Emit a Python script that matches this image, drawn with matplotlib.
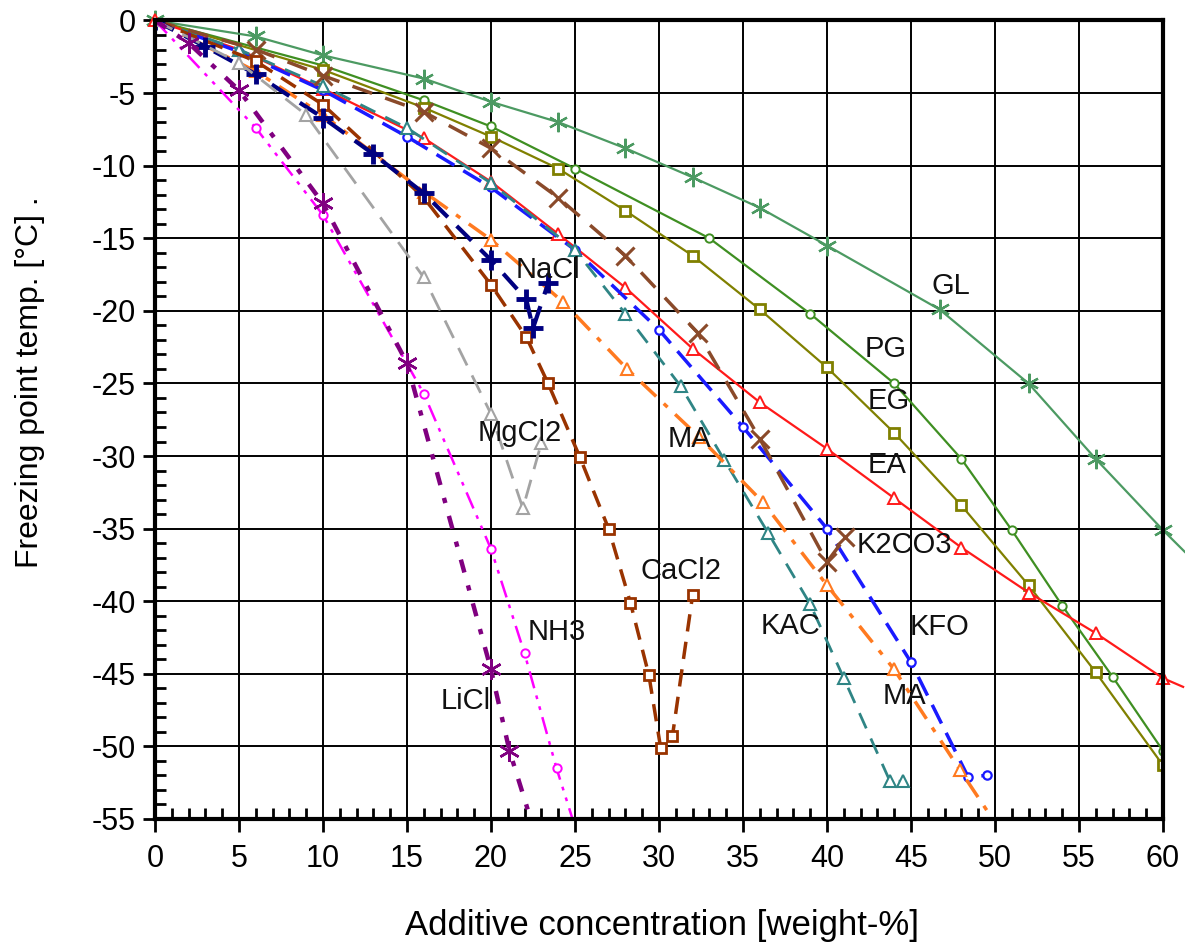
import matplotlib
matplotlib.use("Agg")
import matplotlib.pyplot as plt
from matplotlib.ticker import MultipleLocator

plt.rcParams['font.family'] = ['Liberation Sans', 'DejaVu Sans']
plt.rcParams['axes.unicode_minus'] = False

# concentration [weight-%] and freezing point [degC] per additive
gl_x = [0, 6, 10, 16, 20, 24, 28, 32, 36, 40, 46.7, 52, 56, 60, 61.3]
gl_y = [0, -1.1, -2.4, -4.0, -5.6, -7.0, -8.8, -10.8, -12.9, -15.5, -19.9, -25.0, -30.2, -35.1, -36.6]

pg_x = [0, 10, 16, 20, 25, 33, 39, 44, 48, 51, 54, 57, 60]
pg_y = [0, -3.1, -5.5, -7.3, -10.2, -15.0, -20.2, -25.0, -30.2, -35.1, -40.3, -45.2, -50.3]

eg_x = [0, 10, 16, 20, 24, 28, 32, 36, 40, 44, 48, 52, 56, 60]
eg_y = [0, -3.4, -6.0, -8.0, -10.2, -13.1, -16.2, -19.9, -23.9, -28.4, -33.4, -38.9, -44.9, -51.3]

ea_x = [0, 5, 10, 16, 20, 24, 28, 32, 36, 40, 44, 48, 52, 56, 60, 61.2]
ea_y = [0, -2.0, -4.7, -8.1, -11.1, -14.7, -18.4, -22.6, -26.3, -29.5, -32.9, -36.3, -39.4, -42.2, -45.3, -45.9]

kfo_x = [0, 5, 10, 15, 20, 25, 30, 35, 40, 45, 48.4, 49.5]
kfo_y = [0, -2.15, -4.8, -8.0, -11.5, -15.8, -21.3, -28.0, -35.0, -44.2, -52.1, -52.0]

kac_x = [0, 5, 10, 15, 20, 25, 28, 31.3, 33.9, 36.5, 39, 41, 43.75, 44.5]
kac_y = [0, -2.0, -4.5, -7.4, -11.2, -15.8, -20.2, -25.2, -30.3, -35.3, -40.2, -45.3, -52.4, -52.4]

ma_x = [0, 6, 10, 16, 20, 24.3, 28.1, 32.4, 36.2, 40, 44, 47.9, 51.3]
ma_y = [0, -3.5, -6.5, -11.8, -15.1, -19.4, -24.0, -28.7, -33.2, -38.9, -44.7, -51.6, -57.5]

k2co3_x = [0, 6, 10, 16, 20, 24, 28, 32.3, 36, 40, 41.1]
k2co3_y = [0, -2.0, -3.8, -6.3, -8.8, -12.2, -16.2, -21.5, -28.8, -37.3, -35.6]

cacl2_x = [0, 6, 10, 16, 20, 22.1, 23.4, 25.3, 27, 28.3, 29.4, 30.1, 30.8, 32]
cacl2_y = [0, -2.8, -5.8, -12.2, -18.2, -21.8, -25.0, -30.1, -35.0, -40.1, -45.1, -50.1, -49.3, -39.6]

nacl_x = [0, 3, 6, 10, 13, 16, 20, 22.1, 22.5, 23.4]
nacl_y = [0, -1.8, -3.7, -6.7, -9.2, -11.9, -16.5, -19.2, -21.2, -18.1]

mgcl2_x = [0, 5, 9, 16, 20, 21.9, 23]
mgcl2_y = [0, -2.9, -6.5, -17.7, -27.1, -33.6, -29.1]

nh3_x = [0, 6, 10, 16, 20, 22, 23.9, 25.4]
nh3_y = [0, -7.4, -13.4, -25.7, -36.4, -43.6, -51.5, -57.0]

licl_x = [0, 2, 5, 10, 15, 20, 21.1, 22.9]
licl_y = [0, -1.55, -4.8, -12.6, -23.6, -44.7, -50.3, -57.0]

# label text and where it sits
label_names = ['GL', 'PG', 'EG', 'EA', 'K2CO3', 'KFO', 'KAC', 'MA', 'MA',
               'CaCl2', 'NH3', 'LiCl', 'MgCl2', 'NaCl']
label_x = [47.4, 43.5, 43.7, 43.6, 44.6, 46.7, 37.8, 31.8, 44.6,
           31.3, 23.9, 18.5, 21.7, 23.4]
label_y = [-18.3, -22.6, -26.2, -30.6, -36.1, -41.8, -41.7, -28.8, -46.5,
           -37.9, -42.1, -46.9, -28.4, -17.2]

x_ticks = list(range(0, 61, 5))
y_ticks = list(range(0, -56, -5))

star = (6, 2, 0)

fig = plt.figure(figsize=(11.85, 9.49), dpi=100)
ax = fig.add_axes([0.1308, 0.137, 0.8506, 0.8414])


def draw(x, y, color, ls, lw, marker, ms, mew, clip=True, last_marker=True):
    every = None if last_marker else slice(0, len(x) - 1)
    ax.plot(x, y, color=color, linestyle=ls, linewidth=lw, marker=marker,
            markersize=ms, markeredgewidth=mew, markerfacecolor='white',
            markevery=every, clip_on=clip, zorder=3)


draw(gl_x, gl_y, '#4c9a62', '-', 1.6, star, 14, 1.6, clip=False, last_marker=False)
draw(pg_x, pg_y, '#3f8f22', '-', 1.6, 'o', 6, 1.4)
draw(eg_x, eg_y, '#808000', '-', 1.6, 's', 7, 2.0)
draw(ea_x, ea_y, '#ff1a1a', '-', 1.6, '^', 8, 1.4, clip=False, last_marker=False)
draw(kfo_x, kfo_y, '#1a1aff', (0, (6, 3)), 2.5, 'o', 6, 1.6)
draw(kac_x, kac_y, '#2f8585', (0, (6, 4)), 2.0, '^', 8, 1.5)
draw(ma_x, ma_y, '#ff7a20', (0, (6, 3, 1.5, 3)), 2.5, '^', 8, 1.5)
draw(k2co3_x, k2co3_y, '#8a4a2a', (0, (6, 4)), 2.5, 'x', 13, 2.2)
draw(cacl2_x, cacl2_y, '#993300', (0, (5, 3)), 2.5, 's', 7, 2.0)
draw(nacl_x, nacl_y, '#000080', (0, (5, 3)), 3.0, '+', 15, 3.5)
draw(mgcl2_x, mgcl2_y, '#a3a3a3', (0, (7, 4)), 2.0, '^', 8, 1.5)
draw(nh3_x, nh3_y, '#ff00ff', (0, (7, 3, 1.5, 3, 1.5, 3)), 1.8, 'o', 6, 1.4)
draw(licl_x, licl_y, '#800080', (0, (3, 3, 1.2, 3)), 3.2, star, 15, 1.8)

for name, tx, ty in zip(label_names, label_x, label_y):
    ax.text(tx, ty, name, fontsize=21, color='#111111', ha='center', va='center', zorder=5)

ax.set_xlim(0, 60)
ax.set_ylim(-55, 0)
ax.set_xticks(x_ticks)
ax.set_yticks(y_ticks)
ax.xaxis.set_minor_locator(MultipleLocator(1))
ax.yaxis.set_minor_locator(MultipleLocator(1))
ax.tick_params(which='major', direction='out', length=9, width=2, labelsize=22)
ax.tick_params(axis='x', which='major', pad=9)
ax.tick_params(axis='y', which='major', pad=5)
ax.tick_params(which='minor', direction='in', length=8, width=2)
ax.grid(True, which='major', color='black', linewidth=1.4)
ax.set_axisbelow(True)
for s in ax.spines.values():
    s.set_linewidth(3)
    s.set_zorder(4)

ax.set_xlabel('Additive concentration [weight-%]', fontsize=25, va='center')
ax.set_ylabel('Freezing point temp. [°C] .', fontsize=23, va='center')
ax.xaxis.set_label_coords(0.503, -0.133)
ax.yaxis.set_label_coords(-0.124, 0.547)

fig.savefig('out.png', dpi=100)
